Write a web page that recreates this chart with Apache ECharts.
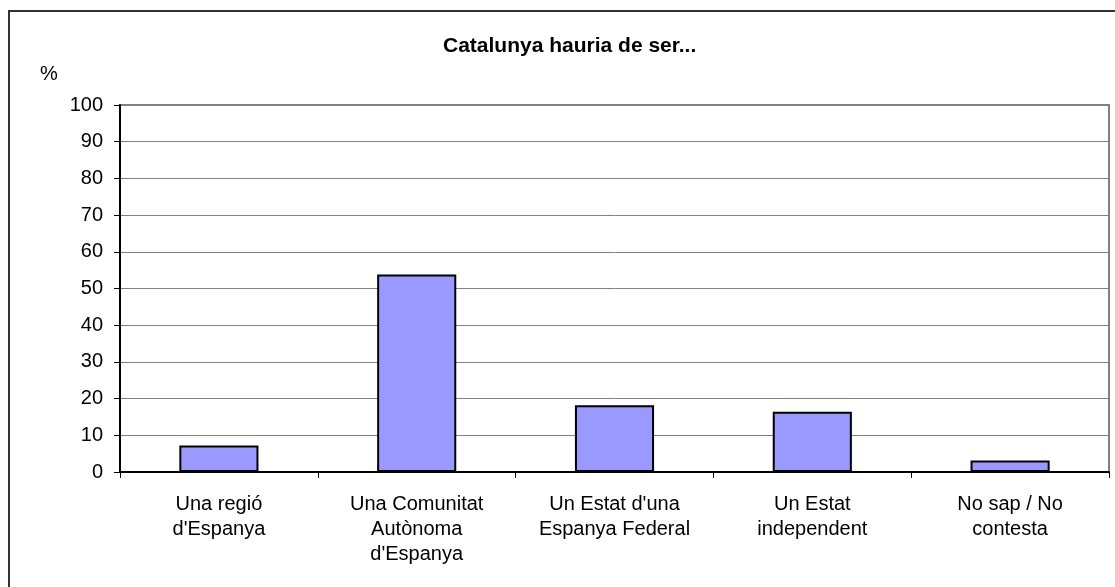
<!DOCTYPE html>
<html>
<head>
<meta charset="utf-8">
<title>Catalunya hauria de ser...</title>
<script src="https://cdn.jsdelivr.net/npm/echarts@6/dist/echarts.min.js"></script>
<style>
	html,body{margin:0;padding:0;background:#fff;}
	#chart{width:1115px;height:587px;}
</style>
</head>
<body>
<div id="chart"></div>
<script>
//分类
var categories = ['Una regió\nd\'Espanya', 'Una Comunitat\nAutònoma\nd\'Espanya', 'Un Estat d\'una\nEspanya Federal', 'Un Estat\nindependent', 'No sap / No\ncontesta'];
//百分比
var values = [7.2, 53.8, 18.2, 16.4, 3.1];
//y轴刻度
var yMin = 0, yMax = 100, yStep = 10;

var myChart = echarts.init(document.getElementById('chart'));
var font = 'Liberation Sans, Arial, sans-serif';

var option = {
	backgroundColor: '#fff',
	animation: false,
	title: {
		text: 'Catalunya hauria de ser...',
		left: 438,
		top: 31,
		textStyle: {
			fontFamily: font,
			fontSize: 21,
			fontWeight: 'bold',
			color: '#000'
		}
	},
	graphic: [
		{
			//外框
			type: 'rect',
			shape: {x: 9, y: 11, width: 1120, height: 600},
			style: {fill: 'none', stroke: '#333', lineWidth: 2},
			silent: true
		},
		{
			type: 'text',
			left: 40,
			top: 64,
			style: {text: '%', font: '20px ' + font, fill: '#000'}
		}
	],
	grid: {
		left: 120,
		right: 6,
		top: 105,
		bottom: 115,
		show: true,
		borderColor: '#808080',
		borderWidth: 2
	},
	xAxis: {
		type: 'category',
		data: categories,
		boundaryGap: true,
		axisLine: {lineStyle: {color: '#000', width: 2}},
		axisTick: {show: true, length: 6, lineStyle: {color: '#000', width: 1}},
		axisLabel: {
			interval: 0,
			margin: 20,
			fontFamily: font,
			fontSize: 20,
			lineHeight: 25,
			color: '#000'
		}
	},
	yAxis: {
		type: 'value',
		min: yMin,
		max: yMax,
		interval: yStep,
		axisLine: {show: true, lineStyle: {color: '#000', width: 2}},
		axisTick: {show: true, length: 6, lineStyle: {color: '#000', width: 1}},
		axisLabel: {
			margin: 17,
			fontFamily: font,
			fontSize: 20,
			color: '#000'
		},
		splitLine: {show: true, lineStyle: {color: '#808080', width: 1}}
	},
	series: [{
		type: 'bar',
		data: values,
		barWidth: '40%',
		itemStyle: {
			color: '#9999FF',
			borderColor: '#000',
			borderWidth: 2
		}
	}]
};

myChart.setOption(option);
</script>
</body>
</html>
